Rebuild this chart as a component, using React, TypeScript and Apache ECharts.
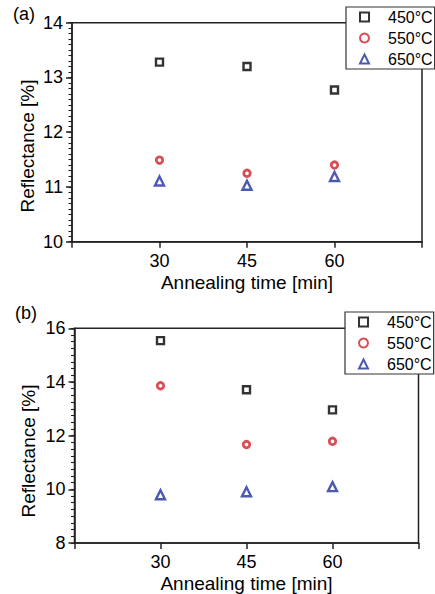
import React, { useEffect, useRef } from "react";
import * as echarts from "echarts";

const times = [30, 45, 60];
const seriesNames = ["450°C", "550°C", "650°C"];
// panel (a)
const a450 = [13.28, 13.2, 12.77];
const a550 = [11.49, 11.25, 11.4];
const a650 = [11.11, 11.03, 11.19];
// panel (b)
const b450 = [15.54, 13.71, 12.96];
const b550 = [13.86, 11.67, 11.79];
const b650 = [9.8, 9.91, 10.1];

const xTicks = [15, 30, 45, 60, 75];
const xLabelShown = [30, 45, 60];

const FONT = "'Liberation Sans', Arial, Helvetica, sans-serif";
const AXIS_COLOR = "#222";
const colors = ["#000000", "#d0202a", "#1f2f9c"];
const symbols = ["rect", "circle", "triangle"];
const symbolSizes = [7, 6.5, 9];
const borderWidths = [2.4, 2.8, 2.4];

function App() {
  const ref = useRef<HTMLDivElement>(null);
  useEffect(() => {
    if (!ref.current) return;
    const chart = echarts.init(ref.current, null, { renderer: "svg" });

    const grids = [
      { left: 72, top: 22.7, width: 350, height: 219 },
      { left: 74.5, top: 328.3, width: 344, height: 216 },
    ];

    const mkX = (gi: number) => ({
      type: "value",
      gridIndex: gi,
      min: xTicks[0],
      max: xTicks[xTicks.length - 1],
      interval: 15,
      name: "Annealing time [min]",
      nameLocation: "middle",
      nameGap: 31,
      nameTextStyle: { fontFamily: FONT, fontSize: 19, color: "#000" },
      axisLine: { show: true, lineStyle: { color: AXIS_COLOR, width: 1.5 } },
      axisTick: { show: true, inside: false, length: 6, lineStyle: { color: AXIS_COLOR, width: 1.5 } },
      axisLabel: {
        margin: 10,
        fontFamily: FONT,
        fontSize: 18,
        color: "#000",
        formatter: (v: number) => (xLabelShown.indexOf(v) >= 0 ? String(v) : ""),
      },
      splitLine: { show: false },
    });

    const mkY = (gi: number, min: number, max: number, interval: number) => ({
      type: "value",
      gridIndex: gi,
      min,
      max,
      interval,
      axisLine: { show: true, lineStyle: { color: AXIS_COLOR, width: 1.5 } },
      axisTick: { show: true, inside: false, length: 6, lineStyle: { color: AXIS_COLOR, width: 1.5 } },
      axisLabel: { margin: 9, fontFamily: FONT, fontSize: 18, color: "#000" },
      splitLine: { show: false },
    });

    // overlay axis that draws only the minor ticks
    const mkYMinor = (gi: number, min: number, max: number, interval: number) => ({
      type: "value",
      gridIndex: gi,
      position: "left",
      min,
      max,
      interval,
      axisLine: { show: false },
      axisTick: { show: true, inside: false, length: 3.5, lineStyle: { color: AXIS_COLOR, width: 1.1 } },
      axisLabel: { show: false },
      splitLine: { show: false },
    });

    const panelData = [
      [a450, a550, a650],
      [b450, b550, b650],
    ];

    const series: any[] = [];
    panelData.forEach((arrs, gi) => {
      arrs.forEach((vals, si) => {
        series.push({
          type: "scatter",
          name: seriesNames[si],
          xAxisIndex: gi,
          yAxisIndex: gi,
          symbol: symbols[si],
          symbolSize: symbolSizes[si],
          itemStyle: { color: "rgba(255,255,255,0)", borderColor: colors[si], borderWidth: borderWidths[si] },
          data: times.map((t, i) => [t, vals[i]]),
        });
      });
    });

    const mkLegend = (left: number, top: number) => ({
      orient: "vertical",
      left,
      top,
      data: seriesNames,
      backgroundColor: "#fff",
      borderColor: "#333",
      borderWidth: 1.2,
      padding: [2, 2, 2, 13],
      itemGap: 5,
      itemWidth: 9,
      itemHeight: 9,
      symbolKeepAspect: true,
      selectedMode: false,
      textStyle: { fontFamily: FONT, fontSize: 16, color: "#000", padding: [0, 0, 0, 14] },
    });

    chart.setOption({
      animation: false,
      backgroundColor: "#fff",
      grid: grids.map((g) => ({
        ...g,
        show: true,
        borderColor: AXIS_COLOR,
        borderWidth: 1.5,
        backgroundColor: "rgba(0,0,0,0)",
        containLabel: false,
      })),
      xAxis: [mkX(0), mkX(1)],
      yAxis: [
        mkY(0, 10, 14, 1),
        mkY(1, 8, 16, 2),
        mkYMinor(0, 10, 14, 0.1),
        mkYMinor(1, 8, 16, 0.25),
      ],
      legend: [mkLegend(346, 7), mkLegend(345, 312)],
      graphic: [
        { type: "text", left: 13, top: 5, style: { text: "(a)", font: `18px ${FONT}`, fill: "#000" } },
        { type: "text", left: 15, top: 304, style: { text: "(b)", font: `18px ${FONT}`, fill: "#000" } },
        {
          type: "text", x: 27, y: 146, rotation: Math.PI / 2,
          style: { text: "Reflectance [%]", font: `19px ${FONT}`, fill: "#000", textAlign: "center", textVerticalAlign: "middle" },
        },
        {
          type: "text", x: 28, y: 451, rotation: Math.PI / 2,
          style: { text: "Reflectance [%]", font: `19px ${FONT}`, fill: "#000", textAlign: "center", textVerticalAlign: "middle" },
        },
      ],
      series,
    });

    return () => chart.dispose();
  }, []);

  return (
    <div
      ref={ref}
      style={{ position: "absolute", left: 0, top: 0, width: 435, height: 594 }}
    />
  );
}

export default App;
